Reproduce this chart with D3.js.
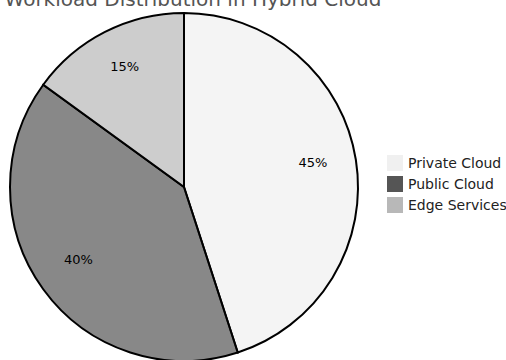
<!DOCTYPE html>
<html><head><meta charset="utf-8">
<script src="https://cdn.jsdelivr.net/npm/d3@7"></script>
<style>body{margin:0;background:#fff}svg{display:block}</style>
</head><body>
<svg id="chart" width="506" height="360"></svg>
<script>
const categories = ["Private Cloud", "Public Cloud", "Edge Services"];
const values = [45, 40, 15];
const colors = ["#f0f0f0", "#555555", "#b8b8b8"];
const title = "Workload Distribution in Hybrid Cloud";

const svg = d3.select("#chart");
const font = "'DejaVu Sans', sans-serif";
const cx = 184, cy = 187, r = 174;

svg.append("text").attr("x", 193).attr("y", 6).attr("text-anchor", "middle")
  .attr("font-family", font).attr("font-size", 20).attr("fill", "#555")
  .text(title);

const data = categories.map((c, i) => ({cat: c, value: values[i], color: colors[i]}));
const pie = d3.pie().value(d => d.value).sort(null);
const arcs = pie(data);
const arc = d3.arc().innerRadius(0).outerRadius(r);
const labelArc = d3.arc().innerRadius(r * 0.75).outerRadius(r * 0.75);

const g = svg.append("g").attr("transform", `translate(${cx},${cy})`);
g.selectAll("path").data(arcs).join("path")
  .attr("d", arc).attr("fill", d => d.data.color).attr("fill-opacity", 0.7)
  .attr("stroke", "#000").attr("stroke-width", 2);
g.selectAll("text").data(arcs).join("text")
  .attr("transform", d => `translate(${labelArc.centroid(d)})`)
  .attr("text-anchor", "middle")
  .attr("font-family", font).attr("font-size", 13).attr("fill", "#000")
  .text(d => d.data.value + "%");

const legend = svg.append("g").attr("transform", "translate(387,155)");
const rows = legend.selectAll("g").data(data).join("g")
  .attr("transform", (d, i) => `translate(0,${i * 21})`);
rows.append("rect").attr("width", 16).attr("height", 16).attr("fill", d => d.color);
rows.append("text").attr("x", 21).attr("y", 13)
  .attr("font-family", font).attr("font-size", 14).attr("fill", "#222")
  .text(d => d.cat);
</script>
</body></html>
